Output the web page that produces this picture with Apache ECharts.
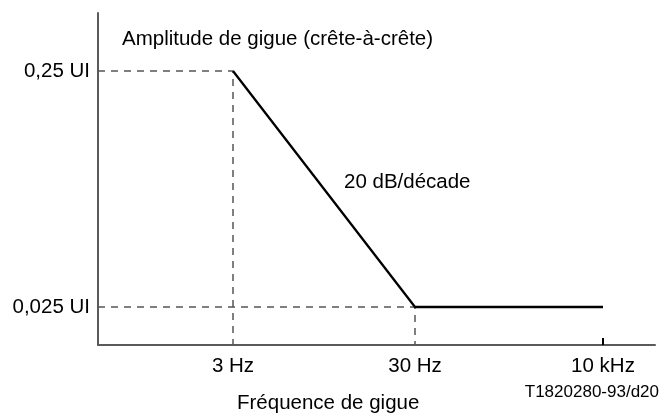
<!DOCTYPE html>
<html>
<head>
<meta charset="utf-8">
<script src="https://cdn.jsdelivr.net/npm/echarts@6/dist/echarts.min.js"></script>
<style>
  html, body { margin: 0; padding: 0; background: #fff; }
  #chart { width: 661px; height: 414px; }
</style>
</head>
<body>
<div id="chart"></div>
<script>
// schematic template: positions along the frequency axis (not a true scale)
const freqLabels = ['3 Hz', '30 Hz', '10 kHz'];
const freqPos = [1.35, 3.17, 5.05];
// jitter amplitude (UI peak-to-peak) at each corner
const amplitudes = [0.25, 0.025, 0.025];
const ampLabels = ['0,025 UI', '0,25 UI'];
const ampTicks = [0.025, 0.25];

const FONT = 'Liberation Sans, Arial, sans-serif';
const yMin = -1.763;
const yMax = -0.356;
const lg = (v) => Math.log10(v);

const curve = freqPos.map((x, i) => [x, lg(amplitudes[i])]);

// dashed guides from the axes to the two corner points
const guideTop = [[0, lg(amplitudes[0])], [freqPos[0], lg(amplitudes[0])], [freqPos[0], yMin]];
const guideLow = [[0, lg(amplitudes[1])], [freqPos[1], lg(amplitudes[1])], [freqPos[1], yMin]];

const pick = (vals, labels, v) => {
  let best = 0;
  vals.forEach((p, i) => { if (Math.abs(p - v) < Math.abs(vals[best] - v)) best = i; });
  return labels[best];
};

const chart = echarts.init(document.getElementById('chart'));

const dashStyle = { color: '#555', width: 1.5, type: [7, 6] };

chart.setOption({
  animation: false,
  grid: { left: 98, right: 6, top: 13, bottom: 69 },
  xAxis: {
    type: 'value',
    min: 0,
    max: 5.57,
    splitLine: { show: false },
    axisLine: { lineStyle: { color: '#5a5a5a', width: 2 } },
    axisTick: {
      inside: true,
      length: 7,
      customValues: [freqPos[2]],
      lineStyle: { color: '#000', width: 2 }
    },
    axisLabel: {
      customValues: freqPos,
      margin: 11,
      color: '#000',
      fontFamily: FONT,
      fontSize: 20.5,
      formatter: (v) => pick(freqPos, freqLabels, v)
    }
  },
  yAxis: {
    type: 'value',
    min: yMin,
    max: yMax,
    splitLine: { show: false },
    axisLine: { show: true, lineStyle: { color: '#5a5a5a', width: 2 } },
    axisTick: { show: false },
    axisLabel: {
      customValues: ampTicks.map(lg),
      margin: 8,
      color: '#000',
      fontFamily: FONT,
      fontSize: 20.5,
      formatter: (v) => pick(ampTicks.map(lg), ampLabels, v)
    }
  },
  series: [
    { type: 'line', data: guideTop, symbol: 'none', lineStyle: dashStyle, z: 1 },
    { type: 'line', data: guideLow, symbol: 'none', lineStyle: dashStyle, z: 1 },
    { type: 'line', data: curve, symbol: 'none', lineStyle: { color: '#000', width: 2.3 }, z: 3 }
  ],
  graphic: [
    {
      type: 'text', left: 122, top: 29,
      style: { text: 'Amplitude de gigue (crête-à-crête)', font: '20.5px ' + FONT, fill: '#000' }
    },
    {
      type: 'text', left: 344, top: 172,
      style: { text: '20 dB/décade', font: '20.5px ' + FONT, fill: '#000' }
    },
    {
      type: 'text', left: 237, top: 393,
      style: { text: 'Fréquence de gigue', font: '20.5px ' + FONT, fill: '#000' }
    },
    {
      type: 'text', right: 2, top: 384,
      style: { text: 'T1820280-93/d20', font: '17px ' + FONT, fill: '#000' }
    }
  ]
});
</script>
</body>
</html>
